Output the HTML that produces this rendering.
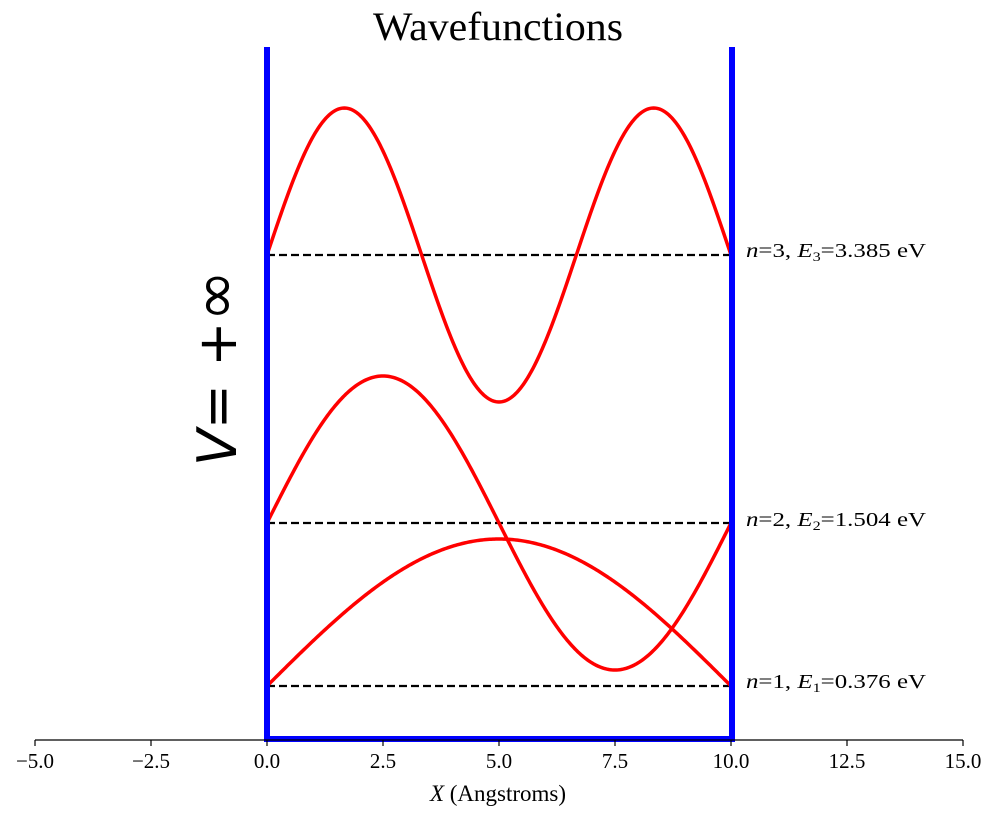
<!DOCTYPE html>
<html><head><style>
body{margin:0;background:#fff;}
svg{display:block;font-family:"Liberation Serif",serif;}
</style></head><body>
<svg id="s" width="996" height="817" viewBox="0 0 996 817">
<text x="373" y="40" font-size="40" textLength="250" lengthAdjust="spacingAndGlyphs">Wavefunctions</text>
<text transform="translate(236,368) rotate(-90)" font-size="54" text-anchor="middle" font-family="DejaVu Sans, sans-serif"><tspan font-style="italic">V</tspan>= +<tspan font-size="62">∞</tspan></text>
<g id="g"></g>
<line x1="35" y1="740" x2="963" y2="740" stroke="#000" stroke-width="1.2"/>
<text x="498" y="801" font-size="23" text-anchor="middle"><tspan font-style="italic">X</tspan> (Angstroms)</text>
<g font-size="20">
<text x="746" y="257" textLength="180" lengthAdjust="spacingAndGlyphs"><tspan font-style="italic">n</tspan>=3, <tspan font-style="italic">E</tspan><tspan font-size="13" dy="4">3</tspan><tspan dy="-4">=3.385 eV</tspan></text>
<text x="746" y="526" textLength="180" lengthAdjust="spacingAndGlyphs"><tspan font-style="italic">n</tspan>=2, <tspan font-style="italic">E</tspan><tspan font-size="13" dy="4">2</tspan><tspan dy="-4">=1.504 eV</tspan></text>
<text x="746" y="688" textLength="180" lengthAdjust="spacingAndGlyphs"><tspan font-style="italic">n</tspan>=1, <tspan font-style="italic">E</tspan><tspan font-size="13" dy="4">1</tspan><tspan dy="-4">=0.376 eV</tspan></text>
</g>
</svg>
<script>
var g=document.getElementById('g'),h='';
function X(v){return 267+v*46.4;}
var levels=[[1,686],[2,523],[3,255]];
levels.forEach(function(l){
 h+='<line x1="267" y1="'+l[1]+'" x2="731" y2="'+l[1]+'" stroke="#000" stroke-width="2.2" stroke-dasharray="8,4"/>';
 var d='';
 for(var i=0;i<=300;i++){var x=i/30;var y=l[1]-147*Math.sin(l[0]*Math.PI*x/10);d+=(i?'L':'M')+X(x).toFixed(2)+' '+y.toFixed(2);}
 h+='<path d="'+d+'" fill="none" stroke="#f00" stroke-width="3.5"/>';
});
h+='<path d="M267 47 L267 739 L732 739 L732 47" fill="none" stroke="#00f" stroke-width="6"/>';
var ticks=[-5,-2.5,0,2.5,5,7.5,10,12.5,15];
ticks.forEach(function(t){var x=X(t);h+='<line x1="'+x+'" y1="740" x2="'+x+'" y2="746" stroke="#000" stroke-width="1.2"/><text x="'+x+'" y="768" font-size="21" text-anchor="middle">'+(t<0?'\u2212':'')+Math.abs(t).toFixed(1)+'</text>';});
g.innerHTML=h;
</script>
</body></html>
